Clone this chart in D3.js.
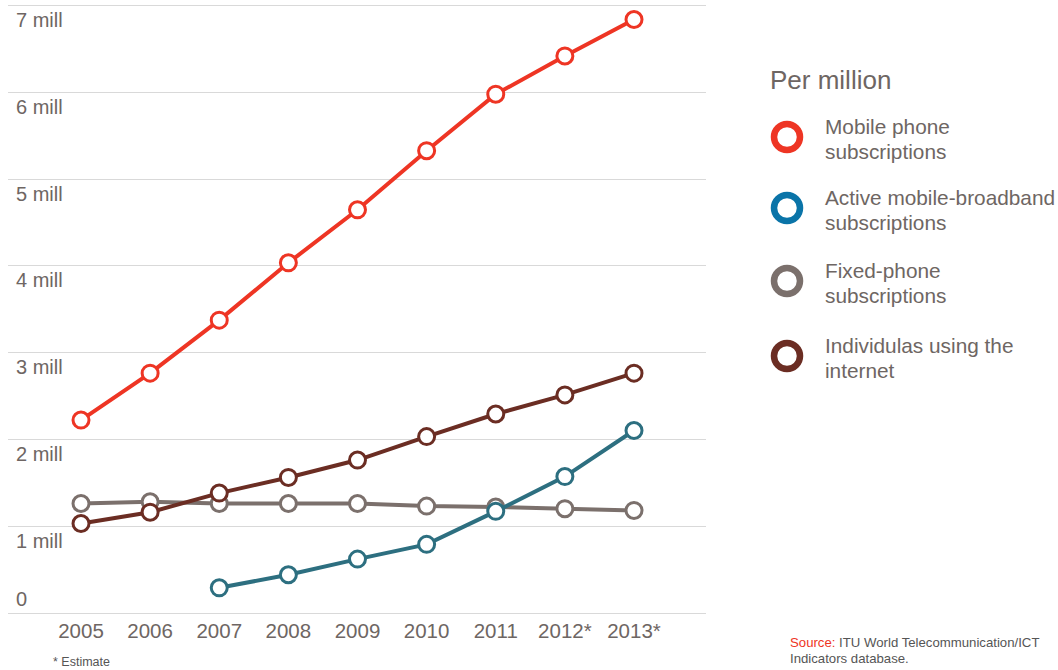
<!DOCTYPE html>
<html lang="en">
<head>
    <meta charset="UTF-8">
    <title>ICT subscriptions</title>
    <style>
        body, html {
          margin: 0;
          width: 100%;
          height: 100%;
          background: #fff;
        }
        svg {
          display: block;
          font-family: "Liberation Sans", Arial, sans-serif;
        }
        .grid line {
            stroke: #d9d9d9;
            stroke-width: 1.2px;
        }
        .axis-label {
            fill: #6e6663;
            font-size: 20px;
        }
        .series path {
            fill: none;
            stroke-width: 4px;
        }
        .series circle {
            fill: #fff;
            stroke-width: 3px;
        }
        .legend text {
            fill: #6e6663;
            font-size: 20.8px;
        }
    </style>
</head>
<body>
    <svg width="1058" height="670"></svg>

    <script src="https://d3js.org/d3.v7.min.js"></script>
    <script>
        // data in "mill" (really thousands of millions)
        const years = ["2005", "2006", "2007", "2008", "2009", "2010", "2011", "2012*", "2013*"];
        const yTicks = [0, 1, 2, 3, 4, 5, 6, 7];

        const mobile    = [2.22, 2.76, 3.37, 4.03, 4.64, 5.32, 5.97, 6.41, 6.83];
        const broadband = [null, null, 0.29, 0.44, 0.62, 0.79, 1.17, 1.57, 2.10];
        const fixed     = [1.26, 1.28, 1.26, 1.26, 1.26, 1.23, 1.22, 1.20, 1.18];
        const internet  = [1.03, 1.16, 1.38, 1.56, 1.76, 2.03, 2.29, 2.51, 2.76];

        // drawing order: back to front
        const series = [
            { name: "fixed",     values: fixed,     line: "#7b706c" },
            { name: "internet",  values: internet,  line: "#6b2d23" },
            { name: "broadband", values: broadband, line: "#2d6f80" },
            { name: "mobile",    values: mobile,    line: "#ee3524" }
        ];

        const legendItems = [
            { lines: ["Mobile phone", "subscriptions"], color: "#ee3524" },
            { lines: ["Active mobile-broadband", "subscriptions"], color: "#0a74a8" },
            { lines: ["Fixed-phone", "subscriptions"], color: "#7b706c" },
            { lines: ["Individulas using the", "internet"], color: "#6b2d23" }
        ];

        const svg = d3.select("svg");

        const x = d3.scalePoint()
                    .domain(years)
                    .range([81, 634]);

        const y = d3.scaleLinear()
                    .domain([0, 7])
                    .range([613, 4.7]);

        // gridlines
        svg.append("g")
           .attr("class", "grid")
           .selectAll("line")
           .data(yTicks)
           .enter().append("line")
           .attr("x1", 8)
           .attr("x2", 706)
           .attr("y1", d => Math.round(y(d)) + 0.5)
           .attr("y2", d => Math.round(y(d)) + 0.5);

        // y labels: sit under their line, except 0 which sits above the baseline
        svg.append("g")
           .selectAll("text")
           .data(yTicks)
           .enter().append("text")
           .attr("class", "axis-label")
           .attr("x", 16)
           .attr("y", d => d === 0 ? y(d) - 7 : y(d) + 22)
           .text(d => d === 0 ? "0" : d + " mill");

        // x labels
        svg.append("g")
           .selectAll("text")
           .data(years)
           .enter().append("text")
           .attr("class", "axis-label")
           .attr("x", d => x(d))
           .attr("y", 638)
           .attr("text-anchor", "middle")
           .style("font-size", "20.5px")
           .text(d => d);

        const line = d3.line()
                       .defined(d => d.v !== null)
                       .x(d => x(d.year))
                       .y(d => y(d.v));

        const groups = svg.append("g")
                          .selectAll("g")
                          .data(series)
                          .enter().append("g")
                          .attr("class", "series");

        groups.append("path")
              .attr("stroke", d => d.line)
              .attr("d", d => line(d.values.map((v, i) => ({ year: years[i], v: v }))));

        groups.selectAll("circle")
              .data(d => d.values
                          .map((v, i) => ({ year: years[i], v: v, color: d.line }))
                          .filter(p => p.v !== null))
              .enter().append("circle")
              .attr("cx", d => x(d.year))
              .attr("cy", d => y(d.v))
              .attr("r", 8)
              .attr("stroke", d => d.color);

        // legend
        const legend = svg.append("g").attr("class", "legend");

        legend.append("text")
              .attr("x", 770)
              .attr("y", 89)
              .style("font-size", "26px")
              .text("Per million");

        const item = legend.selectAll("g")
                           .data(legendItems)
                           .enter().append("g")
                           .attr("transform", (d, i) => `translate(0,${[137, 208, 281, 356][i]})`);

        item.append("circle")
            .attr("cx", 787)
            .attr("cy", 0)
            .attr("r", 13)
            .attr("fill", "#fff")
            .attr("stroke", d => d.color)
            .attr("stroke-width", 6.5);

        item.each(function(d) {
            const t = d3.select(this).append("text").attr("x", 825).attr("y", -3);
            d.lines.forEach((s, j) => {
                t.append("tspan").attr("x", 825).attr("dy", j === 0 ? 0 : 25).text(s);
            });
        });

        // footnotes
        svg.append("text")
           .attr("x", 53)
           .attr("y", 666)
           .attr("fill", "#555")
           .style("font-size", "12.5px")
           .text("* Estimate");

        const src = svg.append("text")
                       .attr("x", 790)
                       .attr("y", 647)
                       .attr("fill", "#555")
                       .style("font-size", "13.2px");
        src.append("tspan").attr("fill", "#ee3524").text("Source:");
        src.append("tspan").text(" ITU World Telecommunication/ICT");
        svg.append("text")
           .attr("x", 790)
           .attr("y", 663)
           .attr("fill", "#555")
           .style("font-size", "13.2px")
           .text("Indicators database.");
    </script>
</body>
</html>
